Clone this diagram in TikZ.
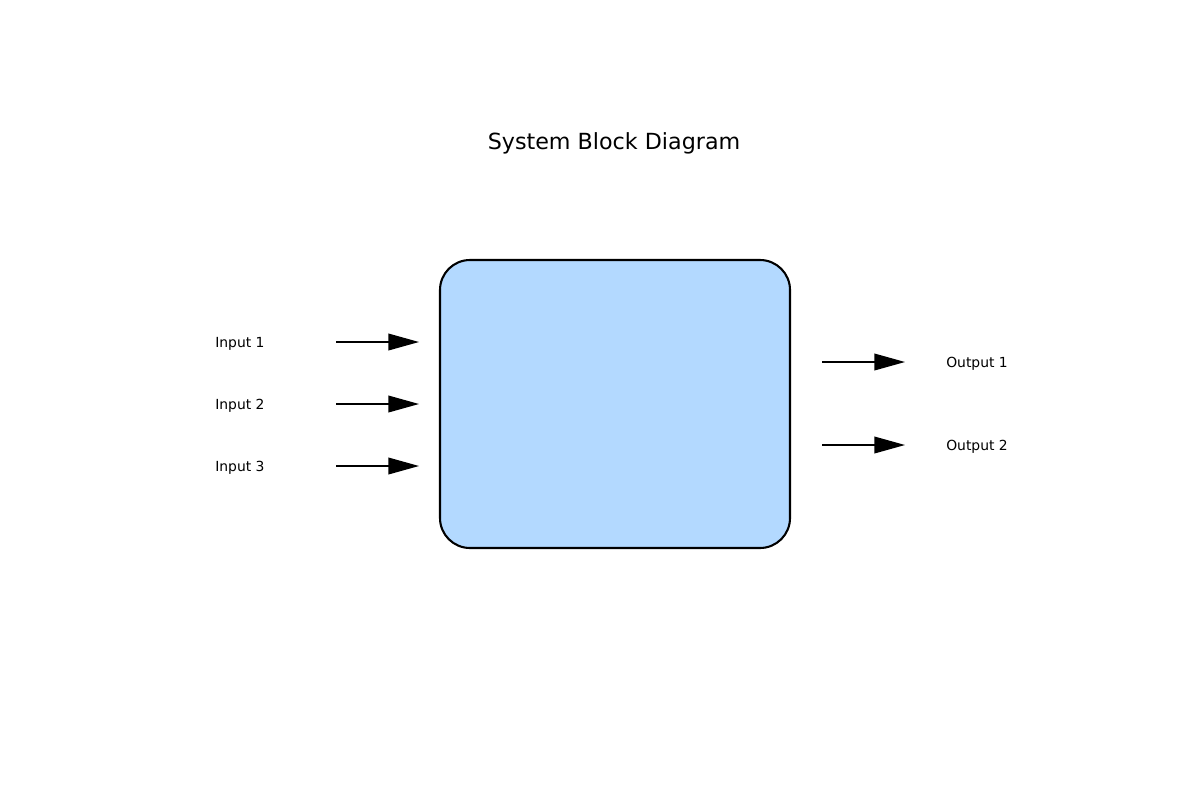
\documentclass[tikz,border=0pt]{standalone}
\usepackage{fontspec}
\setmainfont{DejaVu Sans}
\usetikzlibrary{arrows.meta}
\definecolor{boxfill}{RGB}{179,217,255}
\tikzset{
  blockbox/.style={draw=black, fill=boxfill, line width=1.5pt, rounded corners=21.6pt},
  sigarrow/.style={-{Triangle[length=22pt,width=12pt]}, line width=1pt, black},
  lbl/.style={font=\fontsize{10pt}{12pt}\selectfont, anchor=west, inner sep=0pt},
}
\begin{document}
\begin{tikzpicture}[x=0.72pt,y=-0.72pt]
\useasboundingbox (0,0) rectangle (1200,800);
\node[font=\fontsize{16pt}{19pt}\selectfont] (title) at (614,143) {System Block Diagram};
\draw[blockbox] (440,260) rectangle (790,548);
\node[inner sep=0pt, minimum width=350*0.72pt, minimum height=288*0.72pt] (sys) at (615,404) {};
\node[lbl] (in1) at (215,344) {Input 1};
\node[lbl] (in2) at (215,406) {Input 2};
\node[lbl] (in3) at (215,468) {Input 3};
\node[lbl] (out1) at (946,364) {Output 1};
\node[lbl] (out2) at (946,447) {Output 2};
\coordinate (a1) at (336,342); \coordinate (b1) at (419,342);
\coordinate (a2) at (336,404); \coordinate (b2) at (419,404);
\coordinate (a3) at (336,466); \coordinate (b3) at (419,466);
\coordinate (c1) at (822,362); \coordinate (d1) at (905,362);
\coordinate (c2) at (822,445); \coordinate (d2) at (905,445);
\draw[sigarrow] (a1) -- (b1);
\draw[sigarrow] (a2) -- (b2);
\draw[sigarrow] (a3) -- (b3);
\draw[sigarrow] (c1) -- (d1);
\draw[sigarrow] (c2) -- (d2);
\end{tikzpicture}
\end{document}
